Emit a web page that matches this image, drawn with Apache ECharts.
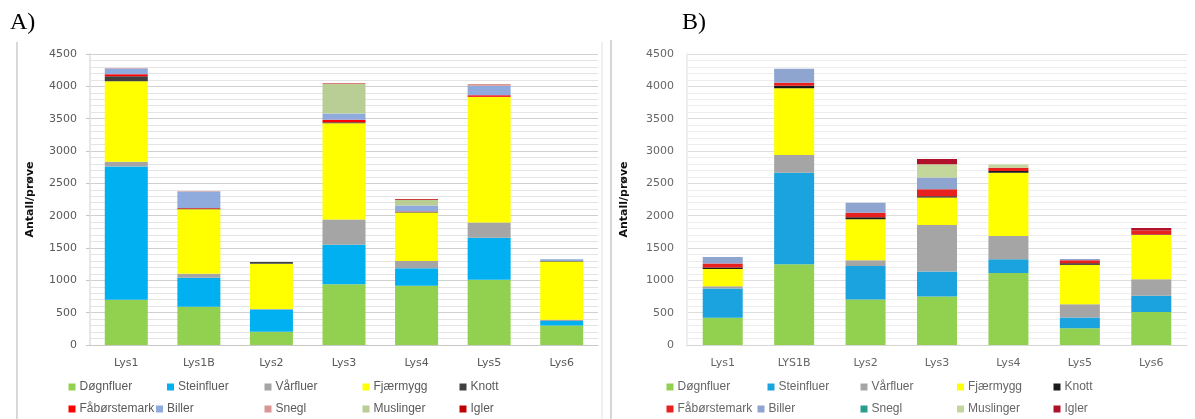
<!DOCTYPE html>
<html>
<head>
<meta charset="utf-8">
<script src="https://cdn.jsdelivr.net/npm/echarts@6/dist/echarts.min.js"></script>
<style>
  html, body { margin: 0; padding: 0; background: #fff; }
  #wrap { position: relative; width: 1195px; height: 419px; overflow: hidden; }
  #chartA { position: absolute; left: 0; top: 0; width: 603px; height: 419px; }
  #chartB { position: absolute; left: 603px; top: 0; width: 592px; height: 419px; filter: blur(0.6px); }
</style>
</head>
<body>
<div id="wrap">
  <div id="chartA"></div>
  <div id="chartB"></div>
</div>
<script>
// Sampling stations
const categoriesA = ['Lys1', 'Lys1B', 'Lys2', 'Lys3', 'Lys4', 'Lys5', 'Lys6'];
const categoriesB = ['Lys1', 'LYS1B', 'Lys2', 'Lys3', 'Lys4', 'Lys5', 'Lys6'];

// Taxon groups (stack order, bottom to top)
const groups = ['Døgnfluer', 'Steinfluer', 'Vårfluer', 'Fjærmygg', 'Knott',
                'Fåbørstemark', 'Biller', 'Snegl', 'Muslinger', 'Igler'];

// Y-axis ticks
const yTicks = [0, 500, 1000, 1500, 2000, 2500, 3000, 3500, 4000, 4500];

// A) counts per sample
const dognfluerA    = [700, 590, 205, 940, 915, 1010, 300];
const steinfluerA   = [2060, 450, 345, 610, 270, 650, 70];
const varfluerA     = [75, 60, 5, 390, 115, 235, 20];
const fjaermyggA    = [1245, 1000, 700, 1490, 750, 1940, 900];
const knottA        = [75, 10, 30, 15, 8, 5, 10];
const fabortemarkA  = [30, 10, 0, 40, 5, 22, 0];
const billerA       = [90, 255, 0, 95, 93, 148, 25];
const sneglA        = [10, 8, 0, 0, 0, 25, 0];
const muslingerA    = [0, 0, 0, 455, 90, 0, 0];
const iglerA        = [0, 0, 0, 10, 12, 0, 0];

// B) counts per sample
const dognfluerB    = [420, 1250, 705, 750, 1115, 260, 510];
const steinfluerB   = [455, 1415, 515, 385, 210, 165, 250];
const varfluerB     = [35, 275, 90, 720, 360, 205, 255];
const fjaermyggB    = [265, 1030, 635, 425, 980, 610, 685];
const knottB        = [25, 40, 30, 20, 25, 25, 10];
const fabortemarkB  = [60, 45, 70, 110, 50, 45, 60];
const billerB       = [100, 215, 155, 180, 0, 20, 0];
const sneglB        = [0, 0, 0, 0, 0, 0, 0];
const muslingerB    = [0, 0, 0, 205, 50, 0, 0];
const iglerB        = [0, 0, 0, 80, 0, 0, 40];

const seriesA = [dognfluerA, steinfluerA, varfluerA, fjaermyggA, knottA,
                 fabortemarkA, billerA, sneglA, muslingerA, iglerA];
const seriesB = [dognfluerB, steinfluerB, varfluerB, fjaermyggB, knottB,
                 fabortemarkB, billerB, sneglB, muslingerB, iglerB];

const colorsA = ['#92D050', '#00B0F0', '#A5A5A5', '#FFFF00', '#404040',
                 '#FF0000', '#8FAADC', '#DA9694', '#B9CE95', '#C00000'];
const colorsB = ['#92D050', '#1AA3DE', '#A5A5A5', '#FFFF00', '#1A1A1A',
                 '#E8201E', '#8EA5D0', '#2A9D8F', '#C3D69B', '#B0102A'];

const AXIS_FONT = '"DejaVu Sans", "Liberation Sans", sans-serif';
const LEGEND_FONT = '"Liberation Sans", Arial, sans-serif';

function buildOption(cfg) {
  const legends = groups.map((g, i) => {
    const row = i < 5 ? 0 : 1;
    return {
      data: [g],
      left: cfg.legendX[i] - 3.5,
      top: cfg.legendY[row] - 7,
      padding: 0,
      icon: 'rect',
      itemWidth: 7,
      itemHeight: 7,
      itemGap: 0,
      selectedMode: false,
      textStyle: { fontFamily: LEGEND_FONT, fontSize: 12, color: cfg.text, padding: [0, 0, 0, -1] }
    };
  });

  return {
    animation: false,
    color: cfg.colors,
    textStyle: { fontFamily: AXIS_FONT },
    legend: legends,
    grid: {
      left: cfg.gridLeft, top: 54, width: cfg.gridWidth, height: 291,
      containLabel: false
    },
    xAxis: {
      type: 'category',
      data: cfg.categories,
      axisLine: { show: true, lineStyle: { color: cfg.xLine, width: 1 } },
      axisTick: { show: false },
      axisLabel: { fontFamily: AXIS_FONT, fontSize: 11, color: cfg.text, margin: 13 }
    },
    yAxis: {
      type: 'value',
      min: yTicks[0],
      max: yTicks[yTicks.length - 1],
      interval: yTicks[1] - yTicks[0],
      name: 'Antall/prøve',
      nameLocation: 'middle',
      nameGap: cfg.nameGap,
      nameRotate: 90,
      nameTextStyle: { fontFamily: AXIS_FONT, fontSize: 11, fontWeight: 'bold', color: '#111' },
      axisLine: { show: true, lineStyle: { color: cfg.yLine, width: 2 } },
      axisTick: { show: cfg.ticks, length: 4, lineStyle: { color: '#c8c8c8' } },
      axisLabel: {
        fontFamily: AXIS_FONT, fontSize: 11, color: cfg.text, margin: 13,
        formatter: (v) => String(v)
      },
      splitLine: { show: true, lineStyle: { color: cfg.major, width: 1 } },
      minorTick: { show: false, splitNumber: 5 },
      minorSplitLine: { show: true, lineStyle: { color: cfg.minor, width: 1 } }
    },
    graphic: cfg.graphic,
    series: groups.map((g, i) => ({
      name: g,
      type: 'bar',
      stack: 'total',
      barWidth: cfg.barWidth,
      data: cfg.values[i],
      itemStyle: { color: cfg.colors[i] },
      emphasis: { disabled: true }
    }))
  };
}

const chartA = echarts.init(document.getElementById('chartA'), null, { renderer: 'canvas' });
chartA.setOption(buildOption({
  categories: categoriesA,
  values: seriesA,
  colors: colorsA,
  gridLeft: 90,
  gridWidth: 508,
  barWidth: 43,
  nameGap: 54,
  ticks: true,
  text: '#595959',
  xLine: '#c8c8c8',
  yLine: '#e6e6e6',
  major: '#d0d0d0',
  minor: '#e4e4e4',
  legendX: [72, 170.5, 268, 366, 463, 72, 159.5, 268, 366, 463],
  legendY: [388, 410],
  graphic: [
    { type: 'text', left: 10, top: 11,
      style: { text: 'A)', font: '24px "Liberation Serif", "DejaVu Serif", serif', fill: '#000' } },
    { type: 'line', shape: { x1: 17, y1: 42, x2: 17, y2: 419 },
      style: { stroke: '#d9d9d9', lineWidth: 2 } },
    { type: 'line', shape: { x1: 602, y1: 42, x2: 602, y2: 419 },
      style: { stroke: '#e0e0e0', lineWidth: 1 } }
  ]
}));

const chartB = echarts.init(document.getElementById('chartB'), null, { renderer: 'canvas' });
chartB.setOption(buildOption({
  categories: categoriesB,
  values: seriesB,
  colors: colorsB,
  gridLeft: 84,
  gridWidth: 500,
  barWidth: 40,
  nameGap: 57,
  ticks: false,
  text: '#666666',
  xLine: '#d6d6d6',
  yLine: '#eeeeee',
  major: '#dddddd',
  minor: '#ededed',
  legendX: [67, 168, 261, 357.5, 454, 67, 158, 261, 357.5, 454],
  legendY: [388, 410],
  graphic: [
    { type: 'text', left: 79, top: 11,
      style: { text: 'B)', font: '24px "Liberation Serif", "DejaVu Serif", serif', fill: '#000' } },
    { type: 'line', shape: { x1: 8, y1: 40, x2: 8, y2: 419 },
      style: { stroke: '#d6d6d6', lineWidth: 2 } }
  ]
}));
</script>
</body>
</html>
